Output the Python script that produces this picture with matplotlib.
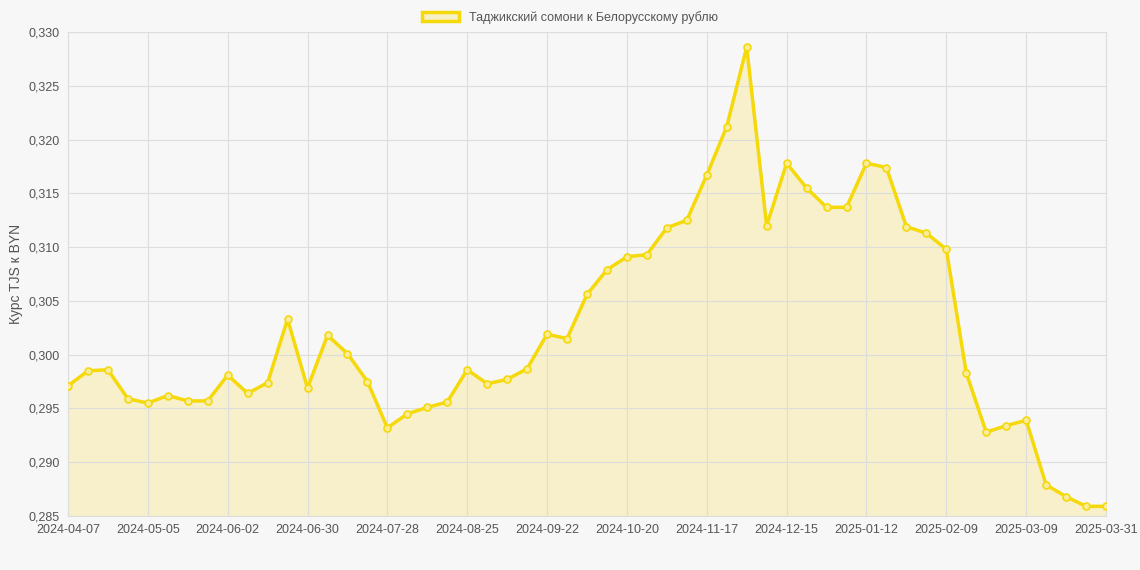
import matplotlib
matplotlib.use("Agg")
import matplotlib.pyplot as plt

values = [0.2971,0.2985,0.2986,0.2959,0.2955,0.2962,0.2957,0.2957,0.2981,0.2964,
          0.2974,0.3033,0.2969,0.3018,0.3001,0.2975,0.2932,0.2945,0.2951,0.2956,
          0.2986,0.2973,0.2977,0.2987,0.3019,0.3015,0.3056,0.3079,0.3091,0.3093,
          0.3118,0.3125,0.3167,0.3212,0.3286,0.3120,0.3178,0.3155,0.3137,0.3137,
          0.3178,0.3174,0.3119,0.3113,0.3098,0.2983,0.2928,0.2934,0.2939,0.2879,
          0.2868,0.2859,0.2859]
tick_labels = ["2024-04-07","2024-05-05","2024-06-02","2024-06-30","2024-07-28","2024-08-25",
               "2024-09-22","2024-10-20","2024-11-17","2024-12-15","2025-01-12","2025-02-09",
               "2025-03-09","2025-03-31"]
tick_idx = [0,4,8,12,16,20,24,28,32,36,40,44,48,52]
label = "Таджикский сомони к Белорусскому рублю"

plt.rcParams['font.family'] = ['Liberation Sans', 'DejaVu Sans']
x = list(range(len(values)))
fig = plt.figure(figsize=(11.4,5.7), dpi=100)
fig.patch.set_facecolor("#f7f7f7")
ax = fig.add_axes([68/1140, 1-516/570, (1106-68)/1140, (516-32)/570])
ax.set_facecolor("#f7f7f7")
c = "#f5d90a"
ax.fill_between(x, values, 0.285, color="#f7f0c6", alpha=0.9, zorder=1)
ax.plot(x, values, color=c, lw=2.5, marker="o", ms=5, mfc="#f9ec9a", mec=c, mew=1.2, zorder=3, label=label)
ax.set_xlim(0, 52)
ax.set_ylim(0.285, 0.330)
ax.set_yticks([0.285+0.005*i for i in range(10)])
ax.set_yticklabels([f"{0.285+0.005*i:.3f}".replace(".", ",") for i in range(10)])
ax.set_xticks(tick_idx)
ax.set_xticklabels(tick_labels)
ax.tick_params(colors="#555555", labelsize=9, length=0, pad=6)
ax.grid(color="#dddddd", lw=0.8)
for s in ax.spines.values():
    s.set_color("#dddddd")
ax.set_ylabel("Курс TJS к BYN", color="#555555", fontsize=10)
leg = fig.legend(handles=[plt.Rectangle((0,0),1,1,fc="#f7f0c6",ec=c,lw=2.5)], labels=[label],
                 loc="upper center", bbox_to_anchor=(0.5, 1.0), frameon=False, fontsize=9,
                 handlelength=3, labelcolor="#555555")
fig.savefig("out.png", dpi=100, facecolor=fig.get_facecolor())
